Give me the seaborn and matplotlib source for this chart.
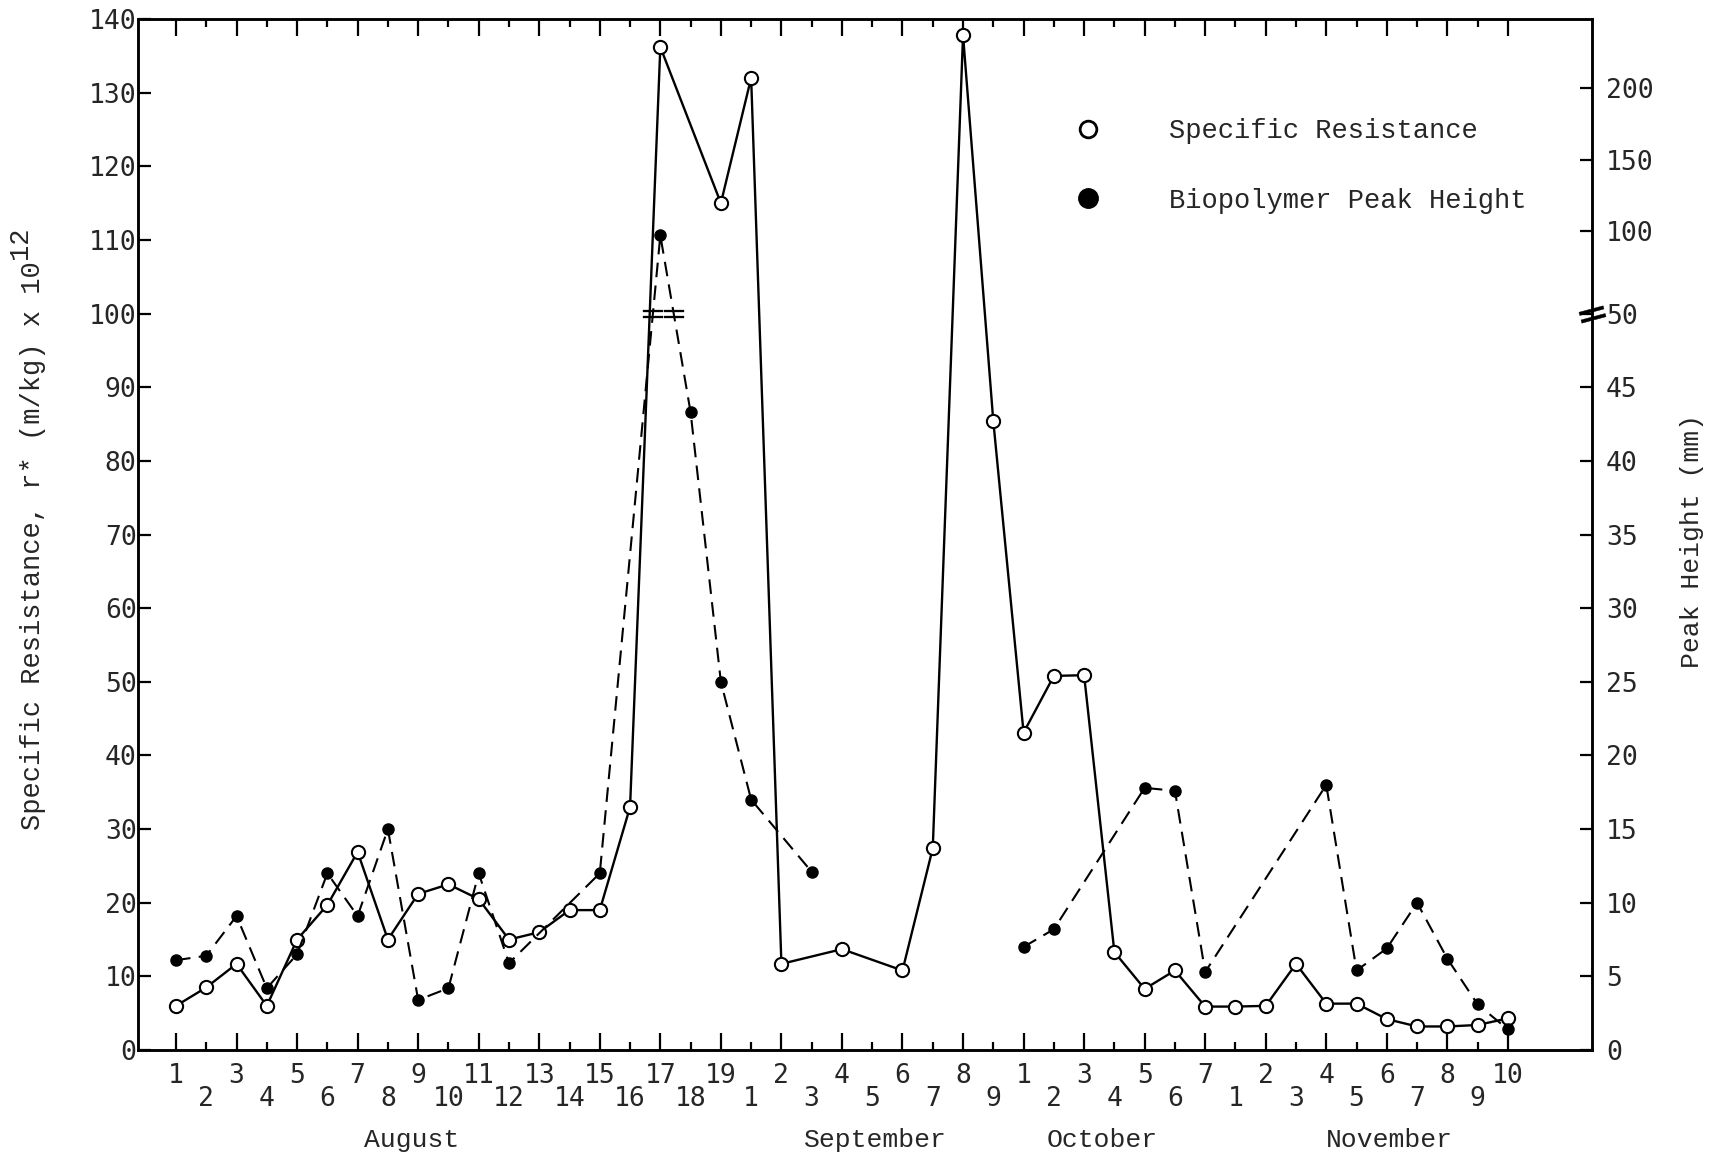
import numpy as np
import pandas as pd
import matplotlib
matplotlib.use("Agg")
import matplotlib.pyplot as plt
import matplotlib.transforms as mtransforms
from matplotlib.lines import Line2D
from matplotlib.markers import MarkerStyle
import seaborn as sns

# ---------------- data ----------------
sample_labels = [
    "1", "2", "3", "4", "5", "6", "7", "8", "9", "10", "11", "12", "13", "14",
    "15", "16", "17", "18", "19",
    "1", "2", "3", "4", "5", "6", "7", "8", "9",
    "1", "2", "3", "4", "5", "6", "7",
    "1", "2", "3", "4", "5", "6", "7", "8", "9", "10",
]
months = ["August", "September", "October", "November"]
month_label_pos = [7.8, 23.1, 30.6, 40.1]

nan = None
specific_resistance = [
    6.0, 8.5, 11.7, 6.0, 15.0, 19.7, 26.9, 15.0, 21.2, 22.5, 20.5, 15.0, 16.0,
    19.0, 19.0, 33.0, 136.2, nan, 115.0,
    132.0, 11.7, nan, 13.7, nan, 10.8, 27.4, 137.8, 85.4,
    43.1, 50.8, 50.9, 13.3, 8.3, 10.8, 5.9,
    5.9, 6.0, 11.7, 6.3, 6.3, 4.2, 3.2, 3.2, 3.4, 4.3,
]
biopolymer_peak = [
    6.1, 6.4, 9.1, 4.2, 6.5, 12.0, 9.1, 15.0, 3.4, 4.2, 12.0, 5.9, nan,
    nan, 12.0, nan, 97.0, 43.3, 25.0,
    17.0, nan, 12.1, nan, nan, nan, nan, nan, nan,
    7.0, 8.2, nan, nan, 17.8, 17.6, 5.3,
    nan, nan, nan, 18.0, 5.4, 6.9, 10.0, 6.2, 3.1, 1.4,
]
biopolymer_runs = [(0, 21), (28, 44)]   # continuous dashed runs (sample index ranges)

left_ticks = [0, 10, 20, 30, 40, 50, 60, 70, 80, 90, 100, 110, 120, 130, 140]
right_ticks = [0, 5, 10, 15, 20, 25, 30, 35, 40, 45, 50, 100, 150, 200]

# broken right scale: 0-50 mm linear (2 left units / mm), compressed above 50
BREAK_R, BREAK_L, UPPER_SLOPE = 50.0, 101.5, 0.194


def peak_to_left(r):
    r = np.asarray(r, dtype=float)
    return np.where(r <= BREAK_R, 2.0 * r, BREAK_L + (r - BREAK_R) * UPPER_SLOPE)


def left_to_peak(v):
    v = np.asarray(v, dtype=float)
    return np.where(v <= 2 * BREAK_R, v / 2.0,
                    np.where(v < BREAK_L, BREAK_R, BREAK_R + (v - BREAK_L) / UPPER_SLOPE))


# ---------------- style ----------------
sns.set_theme(style="white")
plt.rcParams["font.family"] = ["DejaVu Sans Mono", "DejaVu Sans"]
plt.rcParams["axes.edgecolor"] = "black"
TXT = ["Liberation Mono", "DejaVu Sans Mono"]
FS = 19

fig = plt.figure(figsize=(17.23, 11.60), dpi=100)
ax = fig.add_axes([0.0801, 0.0948, 0.8439, 0.8888])
ax2 = ax.twinx()
ax2.set_yscale("function", functions=(peak_to_left, left_to_peak))

x = np.arange(len(sample_labels))
df = pd.DataFrame({
    "sample": x,
    "resistance": pd.to_numeric(pd.Series(specific_resistance), errors="coerce"),
    "peak": pd.to_numeric(pd.Series(biopolymer_peak), errors="coerce"),
})

# specific resistance: solid line with open circles
sr = df.dropna(subset=["resistance"])
sns.lineplot(data=sr, x="sample", y="resistance", ax=ax, color="black", lw=1.7,
             marker="o", markersize=9.5, markerfacecolor="white",
             markeredgecolor="black", markeredgewidth=1.5,
             errorbar=None, sort=False, legend=False)

# biopolymer peak height: dashed line with filled circles
for start, stop in biopolymer_runs:
    seg = df[(df["sample"] >= start) & (df["sample"] <= stop)].dropna(subset=["peak"])
    sns.lineplot(data=seg, x="sample", y="peak", ax=ax2, color="black", lw=1.5,
                 linestyle=(0, (7, 4)), marker="o", markersize=8,
                 markerfacecolor="black", markeredgecolor="black",
                 markeredgewidth=1.0, errorbar=None, sort=False, legend=False)

# axis limits
ax.set_xlim(-1.255, 46.78)
ax.set_ylim(0.5, 140)
ax2.set_ylim(float(left_to_peak(0.5)), float(left_to_peak(140)))

# x ticks: long/upper labels on even samples, short/lower labels on odd samples
ax.set_xticks(x[::2], [sample_labels[i] for i in x[::2]])
ax.set_xticks(x[1::2], [sample_labels[i] for i in x[1::2]], minor=True)
ax.tick_params(axis="x", which="both", direction="in", bottom=True, top=True,
               labelsize=FS, width=1.6, color="black")
ax.tick_params(axis="x", which="major", length=12, pad=9)
ax.tick_params(axis="x", which="minor", length=6, pad=26)
ax.set_xlabel("")
ax.set_ylabel("")

ax.set_yticks(left_ticks)
ax.tick_params(axis="y", which="major", direction="in", left=True, right=False,
               length=9, width=1.6, labelsize=FS, pad=1, color="black")
ax2.set_yticks(right_ticks, [str(t) for t in right_ticks])
ax2.yaxis.set_minor_locator(matplotlib.ticker.NullLocator())
ax2.tick_params(axis="y", which="major", direction="in", right=True, left=False,
                length=9, width=1.6, labelsize=FS, pad=10, color="black")

for a in (ax, ax2):
    for s in a.spines.values():
        s.set_linewidth(1.8)
        s.set_color("black")

# left axis title with full-size raised exponent
ylab = ax.text(-0.0722, 0.2134, "Specific Resistance, r* (m/kg) x 10",
               transform=ax.transAxes, rotation=90, rotation_mode="anchor",
               ha="left", va="center", fontsize=19.5, family=TXT)
fig.canvas.draw()
bb = ylab.get_window_extent()
top_axes = ax.transAxes.inverted().transform((0, bb.y1))[1]
ax.text(-0.0812, top_axes + 0.002, "12", transform=ax.transAxes, rotation=90,
        rotation_mode="anchor", ha="left", va="center", fontsize=19.5, family=TXT)

ax2.set_ylabel("Peak Height (mm)", fontsize=FS, family=TXT, rotation=90)
ax2.yaxis.set_label_coords(1.0605, 0.494)

# month names
blend = mtransforms.blended_transform_factory(ax.transData, ax.transAxes)
for name, pos in zip(months, month_label_pos):
    ax.text(pos, -0.0873, name, transform=blend, ha="center", va="center",
            fontsize=FS, family=TXT)

# scale-break marks on the dashed line where it crosses 50 mm
level_L = float(peak_to_left(BREAK_R))
for start, stop in biopolymer_runs:
    seg = df[(df["sample"] >= start) & (df["sample"] <= stop)].dropna(subset=["peak"])
    xs = seg["sample"].to_numpy(dtype=float)
    Ls = peak_to_left(seg["peak"].to_numpy())
    for k in range(len(xs) - 1):
        a, b = Ls[k], Ls[k + 1]
        if (a - level_L) * (b - level_L) < 0:
            xc = xs[k] + (level_L - a) / (b - a) * (xs[k + 1] - xs[k])
            ax2.plot([xc], [BREAK_R], marker=r"$=$", markersize=14, color="black",
                     linestyle="none", markeredgewidth=0.2)

# scale-break mark on the right axis
rblend = mtransforms.blended_transform_factory(ax2.transAxes, ax2.transData)
ax2.plot([1.0], [BREAK_R], transform=rblend, clip_on=False, linestyle="none",
         marker=MarkerStyle(r"$=$", transform=mtransforms.Affine2D().rotate_deg(15)),
         markersize=18, color="black", markeredgewidth=0.3)

# legend
handles = [
    Line2D([], [], linestyle="none", marker="o", markersize=12,
           markerfacecolor="white", markeredgecolor="black", markeredgewidth=2.0),
    Line2D([], [], linestyle="none", marker="o", markersize=14,
           markerfacecolor="black", markeredgecolor="black"),
]
ax2.legend(handles, ["Specific Resistance", "Biopolymer Peak Height"],
           loc="upper left", bbox_to_anchor=(0.6236, 0.898),
           bbox_transform=fig.transFigure, frameon=False,
           prop={"family": TXT, "size": 19.5}, handlelength=1.0,
           handletextpad=2.5, labelspacing=1.6, borderpad=0, borderaxespad=0)

fig.savefig("out.png", dpi=100)
